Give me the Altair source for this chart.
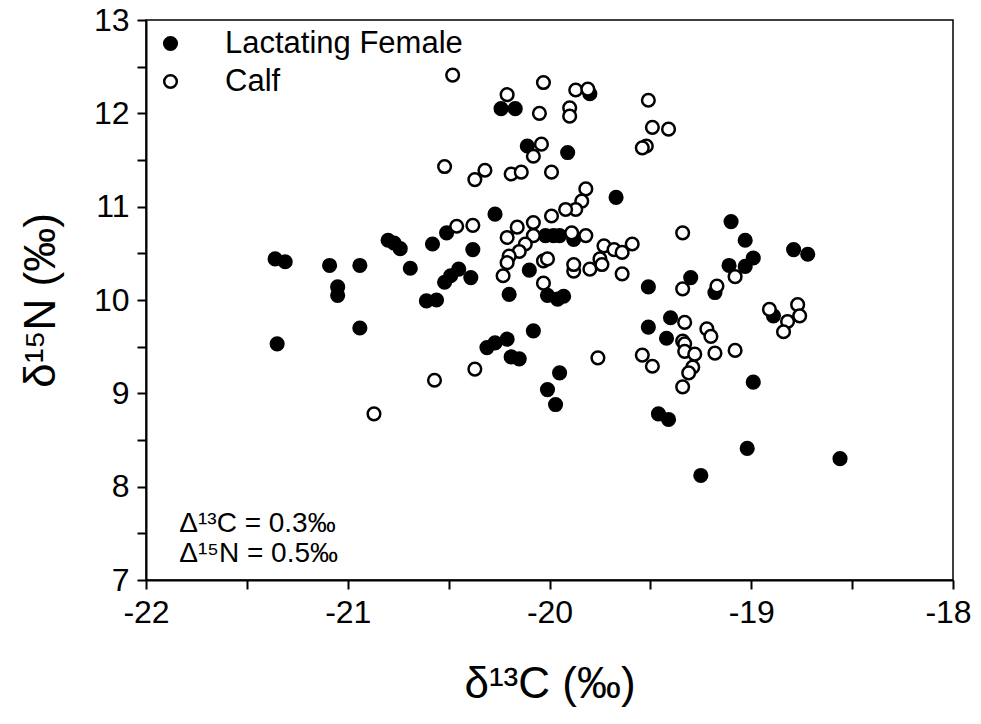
import altair as alt
import pandas as pd

groups = ["Lactating Female", "Calf"]

fem_x = [-21.36, -21.31, -21.35, -21.09, -21.05, -21.05, -20.94, -20.94, -20.80, -20.77,
         -20.74, -20.69, -20.58, -20.61, -20.56, -20.51, -20.45, -20.49, -20.52, -20.39,
         -20.38, -20.27, -20.31, -20.27, -20.21, -20.19, -20.15, -20.20, -20.24, -20.17,
         -20.11, -20.10, -20.08, -20.02, -19.98, -19.95, -20.01, -19.96, -19.93, -19.95,
         -20.01, -19.97, -19.91, -19.88, -19.80, -19.67, -19.51, -19.51, -19.40, -19.42,
         -19.46, -19.41, -19.30, -19.25, -19.18, -19.10, -19.03, -19.11, -19.03, -18.99,
         -18.99, -19.02, -18.89, -18.79, -18.72, -18.56]
fem_y = [10.44, 10.41, 9.53, 10.37, 10.14, 10.05, 9.70, 10.37, 10.64, 10.61,
         10.55, 10.34, 10.60, 9.99, 10.00, 10.72, 10.33, 10.26, 10.19, 10.24,
         10.54, 10.92, 9.49, 9.54, 9.58, 9.39, 9.37, 10.06, 12.05, 12.05,
         11.65, 10.32, 9.67, 10.69, 10.69, 10.69, 10.05, 10.01, 10.04, 9.22,
         9.04, 8.88, 11.58, 10.65, 12.21, 11.10, 10.14, 9.71, 9.81, 9.59,
         8.78, 8.72, 10.24, 8.12, 10.08, 10.84, 10.64, 10.37, 10.36, 10.45,
         9.12, 8.41, 9.83, 10.54, 10.49, 8.30]

calf_x = [-20.48, -20.03, -20.21, -19.87, -19.81, -20.05, -19.90, -19.90, -20.04, -20.08,
          -20.52, -20.32, -20.37, -20.19, -20.14, -19.99, -19.82, -19.84, -19.87, -19.92,
          -19.99, -20.46, -20.38, -20.16, -20.08, -20.21, -20.08, -20.12, -20.15, -19.89,
          -19.82, -19.73, -19.68, -19.64, -19.59, -19.75, -19.74, -19.80, -19.88, -19.88,
          -20.03, -20.01, -20.20, -20.21, -20.23, -20.03, -19.64, -19.34, -19.34, -19.17,
          -19.08, -18.91, -18.77, -18.76, -18.82, -18.84, -19.33, -19.22, -19.20, -19.34,
          -19.33, -19.33, -19.28, -19.18, -19.08, -19.29, -19.31, -19.34, -19.76, -19.54,
          -19.49, -19.51, -19.49, -19.41, -19.52, -19.54, -20.37, -20.57, -20.87]
calf_y = [12.41, 12.33, 12.20, 12.25, 12.26, 12.00, 12.06, 11.97, 11.67, 11.54,
          11.43, 11.39, 11.29, 11.35, 11.37, 11.37, 11.19, 11.06, 10.97, 10.97,
          10.90, 10.79, 10.80, 10.78, 10.83, 10.67, 10.69, 10.60, 10.52, 10.72,
          10.69, 10.58, 10.54, 10.51, 10.60, 10.44, 10.38, 10.33, 10.31, 10.38,
          10.42, 10.44, 10.47, 10.40, 10.26, 10.18, 10.28, 10.72, 10.12, 10.15,
          10.25, 9.90, 9.95, 9.83, 9.77, 9.66, 9.76, 9.69, 9.61, 9.56,
          9.53, 9.45, 9.42, 9.43, 9.46, 9.28, 9.22, 9.07, 9.38, 9.41,
          9.29, 12.14, 11.85, 11.83, 11.65, 11.63, 9.26, 9.14, 8.78]

x_ticks = [-22, -21.5, -21, -20.5, -20, -19.5, -19, -18.5, -18]
y_ticks = [7, 7.5, 8, 8.5, 9, 9.5, 10, 10.5, 11, 11.5, 12, 12.5, 13]

note_x = [-21.835, -21.835]
note_y = [7.51, 7.19]
note_text = ["Δ¹³C = 0.3‰", "Δ¹⁵N = 0.5‰"]

FONT = "Liberation Sans"

data = pd.DataFrame({
    "d13C": fem_x + calf_x,
    "d15N": fem_y + calf_y,
    "group": [groups[0]] * len(fem_x) + [groups[1]] * len(calf_x),
})
notes = pd.DataFrame({"d13C": note_x, "d15N": note_y, "t": note_text})

label_expr = "datum.value % 1 === 0 ? '' + datum.value : ''"

x_enc = alt.X("d13C:Q",
              scale=alt.Scale(domain=[-22, -18], nice=False, zero=False),
              axis=alt.Axis(values=x_ticks, labelExpr=label_expr, title="δ¹³C (‰)",
                            labelFontSize=32, titleFontSize=44, labelPadding=8,
                            titlePadding=34, labelFlush=False,
                            labelOffset={"condition": {"test": "datum.value === -18", "value": -5},
                                         "value": 0}))
y_enc = alt.Y("d15N:Q",
              scale=alt.Scale(domain=[7, 13], nice=False, zero=False),
              axis=alt.Axis(values=y_ticks, labelExpr=label_expr, title="δ¹⁵N (‰)",
                            labelFontSize=32, titleFontSize=44, labelPadding=8,
                            titlePadding=30, labelFlush=False))

points = alt.Chart(data).mark_circle(
    size=160, stroke="black", strokeWidth=2.5, opacity=1
).encode(
    x=x_enc,
    y=y_enc,
    fill=alt.Fill("group:N",
                  scale=alt.Scale(domain=groups, range=["black", "white"]),
                  legend=alt.Legend(title=None, orient="none", legendX=9, legendY=8,
                                    padding=0, labelFontSize=31, labelFont=FONT,
                                    labelOffset=39, rowPadding=6, labelLimit=0,
                                    symbolType="circle", symbolSize=160,
                                    symbolStrokeColor="black", symbolStrokeWidth=2.5,
                                    symbolOpacity=1, labelColor="black")),
)

text = alt.Chart(notes).mark_text(
    align="left", baseline="alphabetic", fontSize=28, font=FONT, color="black"
).encode(x=x_enc, y=y_enc, text="t:N")

chart = alt.layer(points, text).properties(
    width=807, height=560,
    autosize=alt.AutoSizeParams(type="none"),
    padding={"left": 138, "top": 12, "right": 20, "bottom": 130},
).configure_view(
    stroke="black", strokeWidth=1.5
).configure_axis(
    grid=False, domainColor="black", domainWidth=2, tickColor="black",
    tickWidth=2, tickSize=9, labelColor="black", titleColor="black",
    labelFont=FONT, titleFont=FONT, titleFontWeight="normal"
)

chart.save("out.html", embed_options={"renderer": "svg", "actions": False})
